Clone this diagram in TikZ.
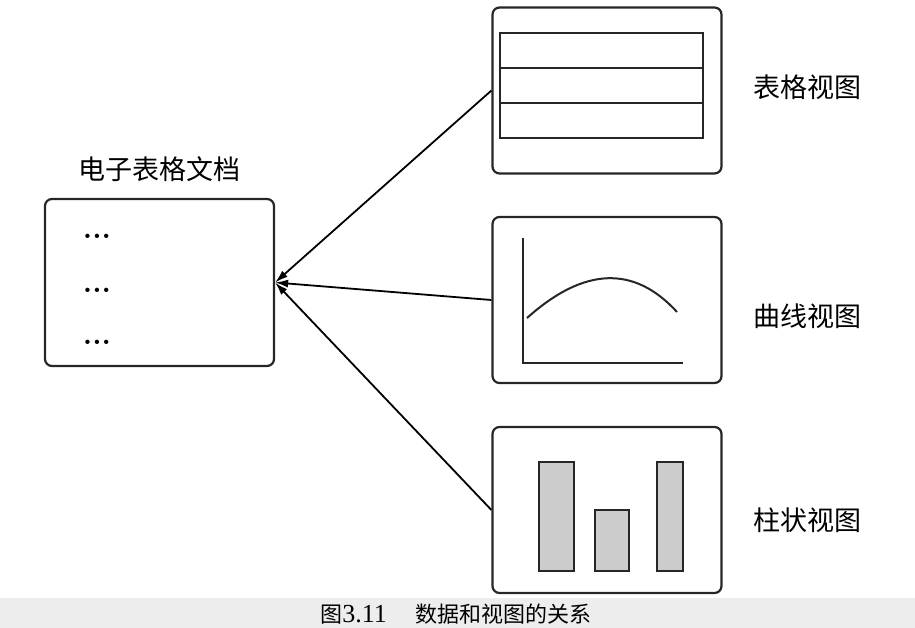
\documentclass[tikz,border=0pt]{standalone}
\usepackage{fontspec}
\newfontfamily\cjk{Noto Sans CJK SC}
\newfontfamily\capnum{Liberation Serif}
\usetikzlibrary{arrows.meta,positioning}

\tikzset{
  view/.style={draw=black!85, line width=2.2pt, rounded corners=7pt,
               minimum width=229pt, minimum height=166pt},
  lbl/.style={font=\cjk\fontsize{27}{30}\selectfont, inner sep=0pt},
  part/.style={draw=black!85, line width=2pt},
  bar/.style={part, fill=black!20},
  link/.style={-{Latex[length=13pt,width=8pt]}, line width=1.8pt},
}

\begin{document}
\begin{tikzpicture}[x=1pt,y=-1pt]
\useasboundingbox (0,0) rectangle (915,628);
\fill[black!7] (0,598) rectangle (915,628);

% document
\node[view, minimum width=229pt, minimum height=167pt] (doc) at (159.5,282.5) {};
\node[lbl, above=16pt of doc] (doctitle) {电子表格文档};
\foreach \y [count=\i] in {236,290,342}
  \node[font=\bfseries\fontsize{30}{30}\selectfont] (dots\i) at (97,\y) {...};

% views
\node[view] (tab)   at (607,90.5) {};
\node[view] (curve) at (607,300) {};
\node[view] (bars)  at (607,510) {};

\draw[part] (500,33) rectangle (703,138);
\draw[part] (500,68) -- (703,68);
\draw[part] (500,103) -- (703,103);

\draw[part] (523,238) -- (523,363) -- (683,363);
\draw[part] (527,318) .. controls (584,267) and (634,265) .. (677,312);

\draw[bar] (539,462) rectangle (574,571);
\draw[bar] (595,510) rectangle (629,571);
\draw[bar] (657,462) rectangle (683,571);

\node[lbl, anchor=west] (tablbl)   at (753,87)  {表格视图};
\node[lbl, anchor=west] (curvelbl) at (753,316) {曲线视图};
\node[lbl, anchor=west] (barslbl)  at (753,520) {柱状视图};

% links
\draw[link] (tab.west)   -- (doc.east);
\draw[link] (curve.west) -- (doc.east);
\draw[link] (bars.west)  -- (doc.east);

\node[font=\cjk\fontsize{22}{24}\selectfont, inner sep=0pt] (caption) at (456,614)
  {图{\capnum\fontsize{26}{26}\selectfont 3.11}\hspace{1.3em}数据和视图的关系};
\end{tikzpicture}
\end{document}
